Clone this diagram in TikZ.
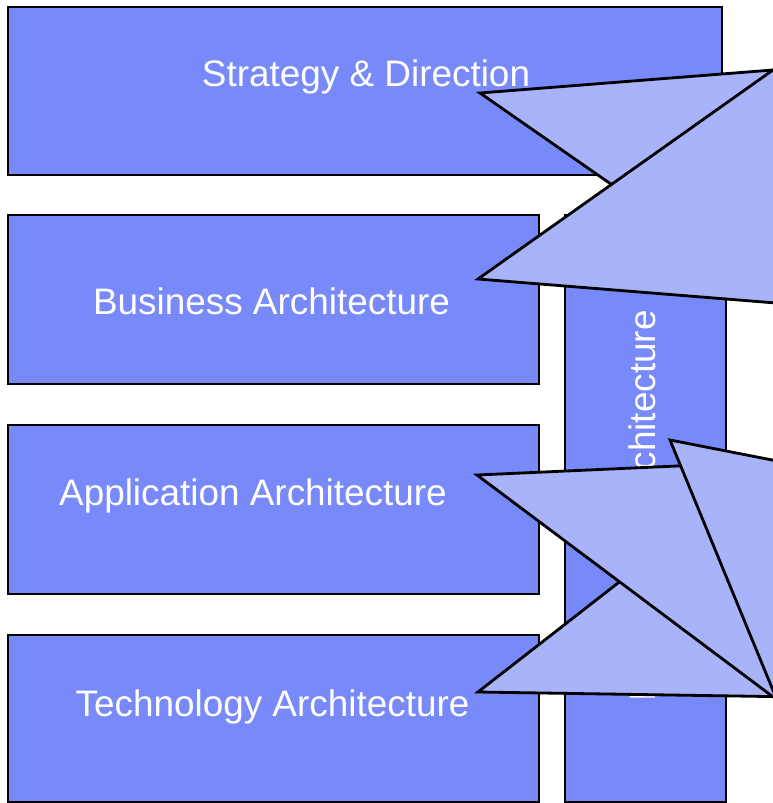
\documentclass[tikz,border=0pt]{standalone}
\usepackage{fontspec}
\setmainfont{Liberation Sans}
\definecolor{layerblue}{RGB}{120,137,250}
\definecolor{tailblue}{RGB}{169,179,250}
\begin{document}
\begin{tikzpicture}[scale=0.2]
\tikzstyle{every node}+=[inner sep=0pt, text=white, font=\fontsize{10.5}{12.6}\selectfont]
\tikzstyle{layer}=[draw=black, fill=layerblue, line width=0.8pt]
\tikzstyle{tail}=[draw=black, fill=tailblue, line width=0.8pt]
\useasboundingbox (0,0) rectangle (38.65,-40.15);
\clip (0,0) rectangle (38.65,-40.15);
\draw [layer] (0.4,-0.35) rectangle (36.1,-8.75);
\draw [layer] (0.4,-10.75) rectangle (26.95,-19.2);
\draw [layer] (0.4,-21.25) rectangle (26.95,-29.7);
\draw [layer] (0.4,-31.75) rectangle (26.95,-40.1);
\draw [layer] (28.25,-10.75) rectangle (36.3,-40.1);
\draw (18.3,-4.3) node [anchor=base] (strategy) {Strategy \& Direction};
\draw (13.575,-15.7) node [anchor=base] (business) {Business Architecture};
\draw (12.65,-25.25) node [anchor=base] (application) {Application Architecture};
\draw (13.625,-35.8) node [anchor=base] (technology) {Technology Architecture};
\draw (32.75,-25.3) node [anchor=base, rotate=90] (information) {Information Architecture};
\draw [tail] (24,-4.65) -- (45,-3) -- (35,-12.3) -- cycle;
\draw [tail] (23.9,-13.95) -- (45,1) -- (45,-15.65) -- cycle;
\draw [tail] (23.9,-34.6) -- (37,-24.4) -- (40,-34.85) -- cycle;
\draw [tail] (23.85,-23.75) -- (45,-22.8) -- (45,-39.6) -- cycle;
\draw [tail] (33.5,-22) -- (45,-24.25) -- (45,-49.95) -- cycle;
\end{tikzpicture}
\end{document}
